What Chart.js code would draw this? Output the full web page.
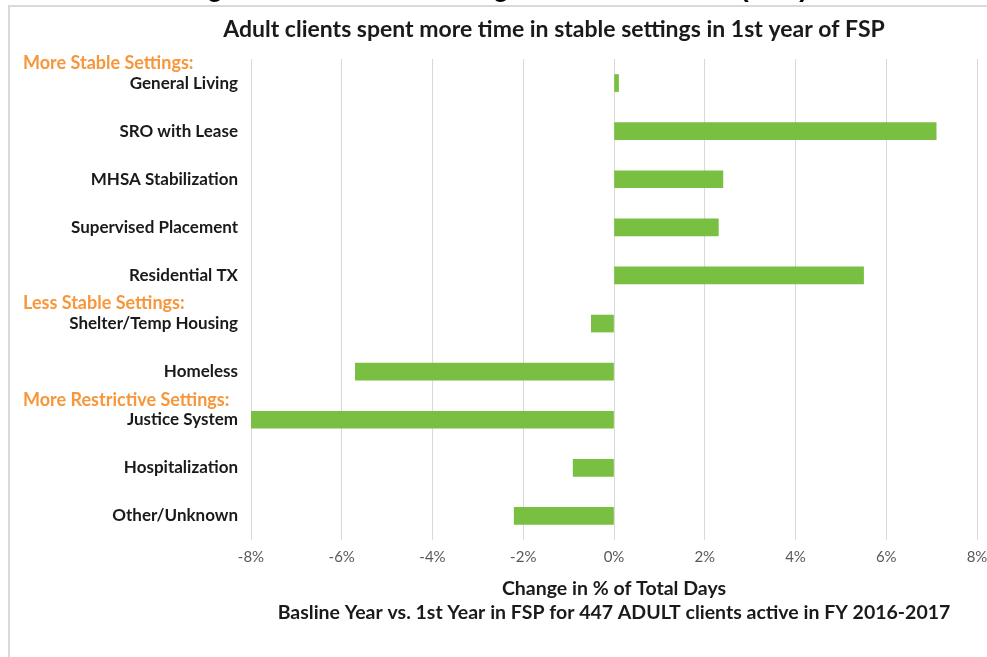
<!DOCTYPE html>
<html lang="en">
<head>
  <meta charset="UTF-8">
  <title>Adult clients spent more time in stable settings</title>
  <style>
    body{margin:0;padding:0;background:#fff;overflow:hidden;}
    #wrap{position:relative;width:987px;height:657px;}
  </style>
  <script src="https://cdn.jsdelivr.net/npm/chart.js"></script>
</head>
<body>
<div id="wrap"><canvas id="fsp" width="987" height="657"></canvas></div>
<script>
/* ===== Data ===== */
const categories=["General Living","SRO with Lease","MHSA Stabilization","Supervised Placement","Residential TX",
  "Shelter/Temp Housing","Homeless","Justice System","Hospitalization","Other/Unknown"];
const changePct=[0.1,7.1,2.4,2.3,5.5,-0.5,-5.7,-8.0,-0.9,-2.2];
const groupLabels=["More Stable Settings:","Less Stable Settings:","More Restrictive Settings:"];
const groupStarts=[0,5,7];
const xMin=-8,xMax=8,xStep=2;
const chartTitle="Adult clients spent more time in stable settings in 1st year of FSP";
const axisTitle=["Change in % of Total Days","Basline Year vs. 1st Year in FSP for 447 ADULT clients active in FY 2016-2017"];
const pageHeading="Change in Residential Settings for Adult Clients (FSP)";

/* ===== Look ===== */
const FONT="Lato, 'Open Sans', sans-serif";
const GREEN="#78bf42",ORANGE="#f7963a",GRID="#d9d9d9";

/* frame, clipped page heading, chart title, group headings */
const decor={
  id:"decor",
  beforeDraw(c){
    const ctx=c.ctx;ctx.save();
    ctx.fillStyle="#fff";ctx.fillRect(0,0,c.width,c.height);
    // heading of the page, cut off by the top edge
    ctx.fillStyle="#000";ctx.font="bold 26px 'Liberation Sans', Arial, sans-serif";
    ctx.textAlign="right";ctx.textBaseline="alphabetic";
    ctx.fillText(pageHeading,808,-3);
    // frame
    ctx.strokeStyle=GRID;ctx.lineWidth=2;
    ctx.beginPath();ctx.moveTo(9,c.height);ctx.lineTo(9,6);ctx.lineTo(c.width,6);ctx.stroke();
    ctx.restore();
  },
  afterDraw(c){
    const ctx=c.ctx,y=c.scales.y;ctx.save();
    ctx.fillStyle="#1a1a1a";ctx.font="bold 23px "+FONT;
    ctx.textAlign="center";ctx.textBaseline="middle";
    ctx.fillText(chartTitle,554,30);
    ctx.fillStyle=ORANGE;ctx.font="bold 18px "+FONT;ctx.textAlign="left";
    groupLabels.forEach((g,i)=>ctx.fillText(g,23,y.getPixelForValue(groupStarts[i])-20));
    ctx.restore();
  }
};

new Chart(document.getElementById("fsp"),{
  type:"bar",
  data:{labels:categories,datasets:[{data:changePct,backgroundColor:GREEN,borderWidth:0,barThickness:17}]},
  options:{
    indexAxis:"y",responsive:false,animation:false,
    layout:{padding:{top:59,right:10,left:0,bottom:0}},
    plugins:{legend:{display:false},tooltip:{enabled:false},title:{display:false}},
    scales:{
      x:{min:xMin,max:xMax,
        ticks:{stepSize:xStep,padding:8,color:"#595959",font:{family:FONT,size:15},callback:v=>v+"%"},
        grid:{color:GRID,drawTicks:false},border:{display:false},
        title:{display:true,text:axisTitle,color:"#1a1a1a",font:{family:FONT,size:19.5,weight:"bold",lineHeight:1.23},padding:{top:0,bottom:32}},
        afterFit(s){s.height=117;s.paddingRight=0;s.paddingLeft=0;}},
      y:{ticks:{padding:13,color:"#1a1a1a",font:{family:FONT,size:17,weight:"bold"}},
        grid:{display:false,drawTicks:false},border:{display:false},
        afterFit(s){s.width=251;}}
    }
  },
  plugins:[decor]
});
</script>
</body>
</html>
